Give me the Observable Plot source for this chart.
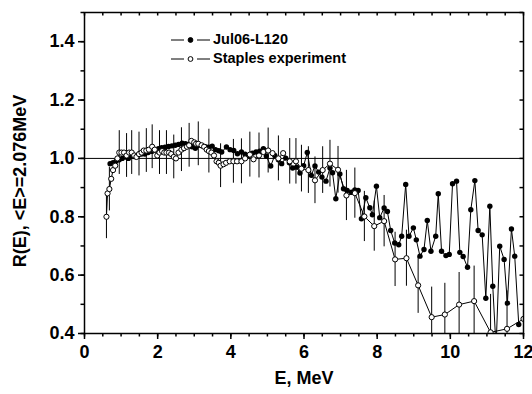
<!DOCTYPE html>
<html>
<head>
<meta charset="utf-8">
<script src="https://cdn.jsdelivr.net/npm/d3@7"></script>
<script src="https://cdn.jsdelivr.net/npm/@observablehq/plot@0.6"></script>
<style>
  html, body { margin: 0; padding: 0; background: #fff; }
  #wrap { position: relative; width: 532px; height: 394px; font-family: "Liberation Sans", Arial, sans-serif; }
  #legend { position: absolute; left: 170px; top: 30px; font-weight: bold; font-size: 14.5px; line-height: 19px; }
  #legend div { display: flex; align-items: center; }
  #legend svg { margin-right: 2px; }
</style>
</head>
<body>
<div id="wrap"><div id="legend"></div></div>
<script>
// ---- data ----
const seriesNames = ["Jul06-L120", "Staples experiment"];
const xLabel = "E, MeV";
const yLabel = "R(E), <E>=2.076MeV";
const xMajorTicks = [0, 2, 4, 6, 8, 10, 12];
const yMajorTicks = [0.4, 0.6, 0.8, 1.0, 1.2, 1.4];
const refLevel = 1.0;

const julE = [0.70,0.78,0.86,0.95,1.03,1.12,1.20,1.29,1.38,1.47,1.56,1.65,1.74,1.84,1.93,2.02,2.11,2.20,2.30,2.39,2.48,2.57,2.67,2.76,2.85,2.94,3.03,3.12,3.21,3.30,3.39,3.49,3.58,3.67,3.75,3.88,3.98,4.08,4.18,4.29,4.39,4.49,4.59,4.69,4.79,4.89,4.97,5.09,5.20,5.30,5.39,5.50,5.60,5.69,5.80,5.89,5.99,6.09,6.20,6.30,6.40,6.49,6.60,6.71,6.78,6.87,6.98,7.08,7.18,7.30,7.39,7.48,7.57,7.69,7.80,7.87,7.98,8.07,8.19,8.28,8.37,8.48,8.59,8.67,8.78,8.87,8.99,9.07,9.17,9.28,9.37,9.47,9.60,9.67,9.76,9.88,9.97,10.06,10.17,10.26,10.35,10.47,10.56,10.67,10.76,10.87,10.97,11.08,11.16,11.25,11.35,11.47,11.56,11.67,11.76,11.87];
const julR = [0.982,0.985,0.990,0.995,1.000,1.005,1.000,1.008,1.006,1.012,1.015,1.015,1.020,1.024,1.028,1.033,1.037,1.038,1.041,1.043,1.045,1.048,1.052,1.050,1.048,1.040,1.035,1.045,1.043,1.040,1.038,1.042,1.030,1.026,1.022,1.039,1.030,1.027,1.016,1.022,1.014,1.010,1.018,1.022,1.025,1.033,1.008,0.974,1.010,0.995,0.982,1.001,0.985,0.967,0.970,0.950,0.975,1.020,0.942,0.974,0.953,0.936,0.922,0.967,0.951,0.862,0.947,0.896,0.890,0.884,0.892,0.890,0.793,0.865,0.831,0.807,0.905,0.797,0.830,0.818,0.753,0.710,0.704,0.733,0.911,0.733,0.762,0.721,0.665,0.688,0.787,0.682,0.733,0.879,0.682,0.667,0.671,0.913,0.922,0.678,0.664,0.627,0.824,0.924,0.753,0.738,0.521,0.836,0.562,0.350,0.699,0.654,0.504,0.758,0.665,0.431];

const stE = [0.60,0.63,0.68,0.73,0.78,0.84,0.90,0.95,1.01,1.08,1.15,1.22,1.29,1.36,1.42,1.49,1.56,1.62,1.69,1.76,1.85,1.92,1.99,2.05,2.12,2.18,2.24,2.31,2.37,2.44,2.50,2.57,2.65,2.72,2.80,2.86,2.92,3.00,3.05,3.11,3.20,3.27,3.34,3.40,3.47,3.54,3.61,3.67,3.72,3.80,3.87,3.97,4.07,4.17,4.29,4.39,4.52,4.62,4.77,4.89,5.02,5.14,5.30,5.43,5.61,5.78,5.93,6.12,6.30,6.51,6.71,6.93,7.16,7.39,7.65,7.92,8.19,8.49,8.80,9.12,9.49,9.85,10.24,10.65,11.10,11.55,12.00];
const stR = [0.800,0.880,0.895,0.930,0.960,0.975,1.000,1.020,1.020,1.020,1.010,1.020,1.020,1.010,1.005,1.015,1.020,1.027,1.027,1.030,1.040,1.030,1.010,1.020,1.025,1.020,1.020,1.020,1.015,1.005,1.000,1.020,1.030,1.035,1.040,1.045,1.060,1.055,1.050,1.050,1.045,1.040,1.030,1.025,1.020,1.010,0.990,0.985,0.975,0.980,0.985,0.990,0.990,0.990,0.990,1.000,1.013,0.997,1.010,1.022,1.027,1.018,1.000,1.018,0.990,0.990,0.965,0.960,0.925,0.960,0.982,0.961,0.873,0.881,0.801,0.768,0.785,0.654,0.658,0.565,0.456,0.465,0.499,0.511,0.404,0.416,0.450];
const stErr = [0.075,null,0.075,null,null,null,null,0.075,null,null,0.075,null,0.075,null,null,0.075,null,null,0.075,null,0.075,null,null,0.075,null,null,0.075,null,null,0.075,null,null,0.075,null,null,0.075,null,null,null,0.075,null,null,null,0.075,null,null,null,null,0.075,null,null,null,0.075,null,0.077,null,0.077,null,0.077,null,0.077,null,0.077,null,0.078,0.078,0.08,0.08,0.08,0.08,0.08,0.08,0.086,0.086,0.086,0.086,0.088,0.093,0.096,0.096,0.103,0.107,0.11,0.12,0.13,0.13,null];

// ---- build ----
const jul = julE.map((E, i) => ({E, R: julR[i]}));
const st = stE.map((E, i) => ({E, R: stR[i], err: stErr[i]}));
const bars = st.filter(d => d.err != null);
const xMinor = d3.range(0, 12.0001, 0.5);
const yMinor = d3.range(4, 15.0001, 1).map(v => +(v / 10).toFixed(1));
const [xMin, xMax] = [0, 12];
const [yMin, yMax] = [0.4, 1.5];
const FONT = "Liberation Sans, Arial, sans-serif";

const W = 532, H = 394, ML = 84, MR = 9, MT = 12, MB = 61;
const yPerPx = (yMax - yMin) / (H - MT - MB);
const xPerPx = (xMax - xMin) / (W - ML - MR);
const MAJ = 6, MIN = 3.5;

const tick = {stroke: "black", strokeWidth: 1.5};
const chart = Plot.plot({
  width: W,
  height: H,
  marginLeft: ML,
  marginRight: MR,
  marginTop: MT,
  marginBottom: MB,
  style: {fontFamily: FONT, background: "white"},
  x: {domain: [xMin, xMax]},
  y: {domain: [yMin, yMax]},
  marks: [
    Plot.ruleY([refLevel], {stroke: "black", strokeWidth: 1}),
    Plot.ruleX(bars, {x: "E", y1: d => d.R - d.err, y2: d => d.R + d.err, stroke: "black", strokeWidth: 1, clip: true}),
    Plot.line(jul, {x: "E", y: "R", stroke: "black", strokeWidth: 1, clip: true}),
    Plot.dot(jul, {x: "E", y: "R", r: 2.7, fill: "black", stroke: "none", clip: true}),
    Plot.line(st, {x: "E", y: "R", stroke: "black", strokeWidth: 1, clip: true}),
    Plot.dot(st, {x: "E", y: "R", r: 2.6, fill: "white", stroke: "black", strokeWidth: 1, clip: true}),
    Plot.axisX({ticks: xMajorTicks, tickSize: 0, tickPadding: 12, fontSize: 18, fontWeight: "bold", label: null, tickFormat: d => String(d)}),
    Plot.axisY({ticks: yMajorTicks, tickSize: 0, tickPadding: 10, fontSize: 18, fontWeight: "bold", label: null, tickFormat: d3.format(".1f")}),
    Plot.frame({stroke: "black", strokeWidth: 1.5}),
    // bottom ticks (outward)
    Plot.ruleX(xMajorTicks, {x: d => d, y1: yMin, y2: yMin - MAJ * yPerPx, ...tick}),
    Plot.ruleX(xMinor, {x: d => d, y1: yMin, y2: yMin - MIN * yPerPx, ...tick}),
    // top ticks (inward)
    Plot.ruleX(xMinor, {x: d => d, y1: yMax, y2: yMax - MIN * yPerPx, ...tick}),
    // left ticks (outward)
    Plot.ruleY(yMajorTicks, {y: d => d, x1: xMin, x2: xMin - MAJ * xPerPx, ...tick}),
    Plot.ruleY(yMinor, {y: d => d, x1: xMin, x2: xMin - MIN * xPerPx, ...tick}),
    // right ticks (inward)
    Plot.ruleY(yMinor, {y: d => d, x1: xMax, x2: xMax - MIN * xPerPx, ...tick}),
    Plot.text([xLabel], {frameAnchor: "bottom", dy: 50, fontSize: 18, fontWeight: "bold", fill: "black"}),
    Plot.text([yLabel], {frameAnchor: "left", textAnchor: "middle", rotate: -90, dx: -64, dy: 8, fontSize: 18, fontWeight: "bold", fill: "black"})
  ]
});
const wrap = document.getElementById("wrap");
wrap.insertBefore(chart, wrap.firstChild);

// legend
const legend = document.getElementById("legend");
seriesNames.forEach((name, i) => {
  const row = document.createElement("div");
  const filled = i === 0;
  row.innerHTML = `<svg width="41" height="10"><line x1="1" x2="40" y1="5" y2="5" stroke="black" stroke-width="1"/><line x1="14" x2="27" y1="5" y2="5" stroke="white" stroke-width="3"/><circle cx="20.5" cy="5" r="2.4" fill="${filled ? "black" : "white"}" stroke="black" stroke-width="1"/></svg><span>${name}</span>`;
  legend.appendChild(row);
});
</script>
</body>
</html>
